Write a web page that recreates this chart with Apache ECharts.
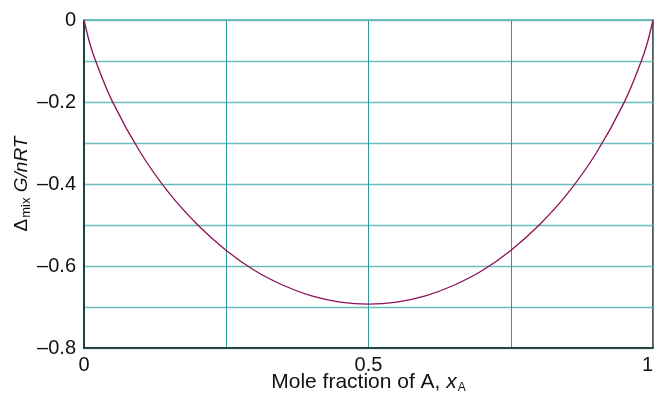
<!DOCTYPE html>
<html>
<head>
<meta charset="utf-8">
<script src="https://cdn.jsdelivr.net/npm/echarts@6/dist/echarts.min.js"></script>
<style>
html, body { margin: 0; padding: 0; background: #fff; }
#chart { width: 655px; height: 393px; }
</style>
</head>
<body>
<div id="chart"></div>
<script>
// mole fraction x_A and the read-off Gibbs energy of mixing
var xValues = [0, 0.01, 0.02, 0.05, 0.1, 0.15, 0.2, 0.25, 0.3, 0.35, 0.4, 0.45, 0.5,
	0.55, 0.6, 0.65, 0.7, 0.75, 0.8, 0.85, 0.9, 0.95, 0.98, 0.99, 1];
var gValues = [0, -0.056, -0.098, -0.199, -0.325, -0.423, -0.500, -0.562, -0.611, -0.647, -0.673, -0.688, -0.693,
	-0.688, -0.673, -0.647, -0.611, -0.562, -0.500, -0.423, -0.325, -0.199, -0.098, -0.056, 0];
var xTickLabels = [0, 0.5, 1];
var yTickLabels = [0, -0.2, -0.4, -0.6, -0.8];

var chart = echarts.init(document.getElementById('chart'));

var points = [];
for (var i = 0; i < xValues.length; i++) {
	points.push([xValues[i], gValues[i]]);
}

function fmt(v) {
	var s = String(Math.abs(v));
	return v < 0 ? '\u2013' + s : s;
}

var font = 'Liberation Sans';

var option = {
	backgroundColor: '#fff',
	animation: false,
	grid: {
		left: 84,
		right: 2,
		top: 20,
		bottom: 45,
		outerBoundsMode: 'none',
		containLabel: false,
		// dark frame, the top edge is painted over in teal by the top axis
		show: true,
		backgroundColor: 'transparent',
		borderColor: '#1a2a2a',
		borderWidth: 1.5
	},
	xAxis: [{
		type: 'value',
		min: 0,
		max: 1,
		interval: 0.25,
		name: '{t|Mole fraction of A, }{i|x}{s|A}',
		nameLocation: 'middle',
		nameGap: 23,
		nameMoveOverlap: false,
		nameTextStyle: {
			rich: {
				t: { fontFamily: font, fontSize: 21, color: '#111' },
				i: { fontFamily: font, fontSize: 21, fontStyle: 'italic', color: '#111' },
				s: { fontFamily: font, fontSize: 12, color: '#111', padding: [11, 0, 0, 1] }
			}
		},
		axisLine: { onZero: false, lineStyle: { color: '#1a2a2a', width: 1.5 } },
		axisTick: { show: false },
		axisLabel: {
			fontFamily: font,
			fontSize: 20,
			color: '#111',
			margin: 7,
			alignMaxLabel: 'right',
			formatter: function(v) {
				for (var k = 0; k < xTickLabels.length; k++) {
					if (Math.abs(v - xTickLabels[k]) < 1e-6) return fmt(xTickLabels[k]);
				}
				return '';
			}
		},
		splitLine: { show: true, lineStyle: { color: '#2a9a9a', width: 1 } }
	}, {
		type: 'value',
		min: 0,
		max: 1,
		position: 'top',
		axisLine: { show: true, onZero: false, lineStyle: { color: '#6cbcbc', width: 2 } },
		axisTick: { show: false },
		axisLabel: { show: false },
		splitLine: { show: false }
	}],
	yAxis: {
		type: 'value',
		min: -0.8,
		max: 0,
		interval: 0.1,
		name: '{d|\u0394}{s|mix}{i| G/nRT}',
		nameLocation: 'middle',
		nameRotate: 90,
		nameGap: 51,
		nameMoveOverlap: false,
		nameTextStyle: {
			rich: {
				d: { fontFamily: font, fontSize: 19, color: '#111' },
				s: { fontFamily: font, fontSize: 13, color: '#111', padding: [10, 0, 0, 1] },
				i: { fontFamily: font, fontSize: 19, fontStyle: 'italic', color: '#111' }
			}
		},
		axisLine: { show: true, onZero: false, lineStyle: { color: '#1a2a2a', width: 1.5 } },
		axisTick: { show: false },
		axisLabel: {
			fontFamily: font,
			fontSize: 20,
			color: '#111',
			margin: 8,
			formatter: function(v) {
				for (var k = 0; k < yTickLabels.length; k++) {
					if (Math.abs(v - yTickLabels[k]) < 1e-6) return fmt(yTickLabels[k]);
				}
				return '';
			}
		},
		splitLine: { show: true, lineStyle: { color: '#6cbcbc', width: 1.3 } }
	},
	series: [{
		type: 'line',
		data: points,
		smooth: 0.4,
		showSymbol: false,
		lineStyle: { color: '#8e1058', width: 1.3 }
	}]
};
chart.setOption(option);
</script>
</body>
</html>
